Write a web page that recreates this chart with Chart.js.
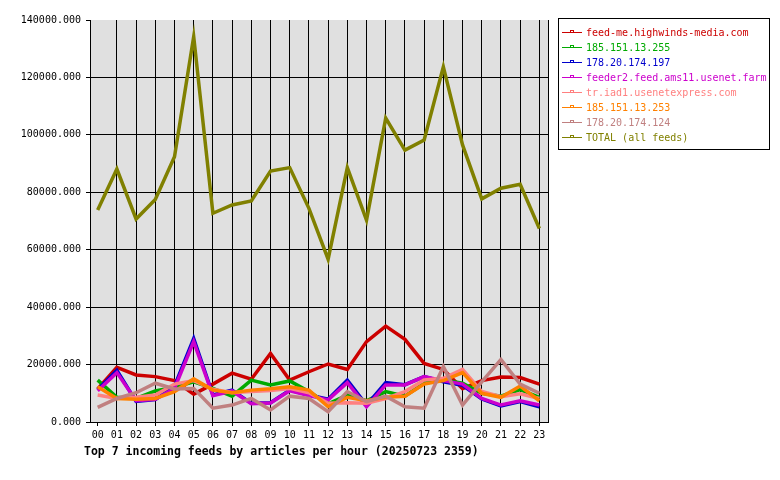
<!DOCTYPE html>
<html>
<head>
<meta charset="utf-8">
<title>Top 7 incoming feeds</title>
<script src="https://cdn.jsdelivr.net/npm/chart.js@4.4.1/dist/chart.umd.min.js"></script>
<style>
    body { margin: 0; background: #fff; }
    canvas { display: block; }
</style>
</head>
<body>
<canvas id="feedChart" width="780" height="480"></canvas>
<script>
// Incoming feeds per hour - chart data

const hours = ['00', '01', '02', '03', '04', '05', '06', '07', '08', '09', '10', '11',
               '12', '13', '14', '15', '16', '17', '18', '19', '20', '21', '22', '23'];

const feedNames = [
    'feed-me.highwinds-media.com',
    '185.151.13.255',
    '178.20.174.197',
    'feeder2.feed.ams11.usenet.farm',
    'tr.iad1.usenetexpress.com',
    '185.151.13.253',
    '178.20.174.124',
    'TOTAL (all feeds)'
];

const feedColors = ['#cc0000', '#00aa00', '#0000cc', '#cc00cc', '#ff8080', '#ff8000', '#c08080', '#808000'];

// articles per hour
const highwinds = [11500, 19000, 16400, 15800, 14400, 9700, 13200, 17000, 14900, 23900, 14600, 17500,
                   20200, 18300, 28000, 33400, 28800, 20400, 18300, 11600, 14400, 15700, 15500, 13200];
const feed255 = [14600, 8600, 8200, 10800, 12100, 14000, 11700, 9000, 14600, 12900, 14300, 10600,
                 6300, 9400, 7400, 10600, 9000, 13500, 14600, 13500, 10000, 9000, 11300, 8600];
const feed197 = [11200, 18000, 7200, 7800, 12500, 29100, 9400, 11100, 6500, 6700, 11100, 9400,
                 7900, 14600, 5900, 13700, 13000, 15800, 14000, 12800, 8000, 5600, 7100, 5300];
const usenetFarm = [10900, 17200, 7400, 7900, 11700, 28000, 9200, 10800, 6400, 6600, 10900, 9200,
                    7700, 13700, 5300, 12900, 12900, 15800, 14400, 13200, 8200, 5900, 7400, 5900];
const usenetExpress = [9400, 8200, 8600, 9400, 13200, 14400, 11400, 10200, 10600, 11000, 11700, 10200,
                       6500, 6700, 6500, 8200, 10600, 14600, 15200, 18300, 10600, 8800, 9800, 8200];
const feed253 = [12300, 8200, 7900, 8200, 10600, 15000, 11100, 10200, 11100, 11600, 12300, 11100,
                 5300, 8600, 7400, 8600, 9000, 13200, 14400, 17200, 10000, 8600, 12500, 7400];
const feed124 = [5100, 8200, 10200, 13500, 11500, 11700, 4800, 5900, 8200, 4200, 9000, 8200,
                 3600, 10600, 7100, 9000, 5300, 4800, 19300, 5900, 14000, 21800, 13200, 10000];
const totalFeeds = [73800, 88100, 70700, 77500, 92400, 134200, 72700, 75600, 77000, 87400, 88600, 74400,
                    56700, 88600, 70300, 105800, 94700, 98200, 123700, 96500, 77700, 81400, 82800, 67400];

const seriesValues = [highwinds, feed255, feed197, usenetFarm, usenetExpress, feed253, feed124, totalFeeds];

const yTicks = [0, 20000, 40000, 60000, 80000, 100000, 120000, 140000];

const chartTitle = 'Top 7 incoming feeds by articles per hour (20250723 2359)';

const MONO = '"DejaVu Sans Mono", "Liberation Mono", monospace';

// Plot background, right border, legend box and bottom title
const decorPlugin = {
    id: 'decor',
    beforeDraw(chart) {
        const { ctx, chartArea } = chart;
        ctx.save();
        ctx.fillStyle = '#e0e0e0';
        ctx.fillRect(chartArea.left, chartArea.top, chartArea.right - chartArea.left, chartArea.bottom - chartArea.top);
        ctx.restore();
    },
    afterDraw(chart) {
        const { ctx, chartArea } = chart;
        ctx.save();

        // right edge of the plot
        ctx.strokeStyle = '#000';
        ctx.lineWidth = 1;
        ctx.beginPath();
        ctx.moveTo(chartArea.right + 0.5, chartArea.top);
        ctx.lineTo(chartArea.right + 0.5, chartArea.bottom);
        ctx.stroke();

        // legend
        ctx.strokeRect(558.5, 18.5, 211, 131);
        ctx.font = '10px ' + MONO;
        ctx.textBaseline = 'middle';
        chart.data.datasets.forEach((ds, i) => {
            const y = 33 + i * 14.95;
            const ly = Math.round(y) - 0.5;
            ctx.strokeStyle = ds.borderColor;
            ctx.beginPath();
            ctx.moveTo(562, ly);
            ctx.lineTo(582, ly);
            ctx.stroke();
            ctx.strokeRect(570.5, ly - 2, 3, 2);
            ctx.fillStyle = ds.borderColor;
            ctx.fillText(ds.label, 586, y + 0.5);
        });

        // title under the axis
        ctx.fillStyle = '#000';
        ctx.font = 'bold 11.5px ' + MONO;
        ctx.fillText(chartTitle, 84, 452);
        ctx.restore();
    }
};

const datasets = feedNames.map((name, i) => ({
    label: name,
    data: seriesValues[i].map((v, h) => ({ x: h, y: v })),
    borderColor: feedColors[i],
    backgroundColor: feedColors[i],
    borderWidth: 3.5,
    pointRadius: 0,
    tension: 0,
    fill: false,
    order: feedNames.length - i
}));

new Chart(document.getElementById('feedChart'), {
    type: 'line',
    data: { datasets: datasets },
    plugins: [decorPlugin],
    options: {
        responsive: false,
        animation: false,
        devicePixelRatio: 1,
        layout: {
            padding: { top: 20, right: 232, left: 0, bottom: 0 }
        },
        plugins: {
            legend: { display: false },
            tooltip: { enabled: false }
        },
        scales: {
            x: {
                type: 'linear',
                min: -0.4,
                max: 23.45,
                afterBuildTicks: scale => {
                    scale.ticks = hours.map((h, i) => ({ value: i }));
                },
                afterFit: scale => { scale.height = 58; },
                ticks: {
                    autoSkip: false,
                    maxRotation: 0,
                    padding: 3,
                    color: '#000',
                    font: { family: MONO, size: 10 },
                    callback: value => hours[value]
                },
                grid: {
                    color: ctx => (ctx.tick && ctx.tick.value === 0 ? 'rgba(0,0,0,0)' : '#000'),
                    tickColor: '#000',
                    tickLength: 4,
                    lineWidth: 1
                },
                border: { color: '#000', width: 1 }
            },
            y: {
                min: 0,
                max: 140000,
                afterBuildTicks: scale => {
                    scale.ticks = yTicks.map(v => ({ value: v }));
                },
                afterFit: scale => { scale.width = 90; },
                ticks: {
                    padding: 5,
                    color: '#000',
                    font: { family: MONO, size: 10 },
                    callback: value => value.toFixed(3)
                },
                grid: {
                    color: ctx => (ctx.tick && ctx.tick.value === 140000 ? 'rgba(0,0,0,0)' : '#000'),
                    tickColor: '#000',
                    tickLength: 4,
                    lineWidth: 1
                },
                border: { color: '#000', width: 1 }
            }
        }
    }
});
</script>
</body>
</html>
